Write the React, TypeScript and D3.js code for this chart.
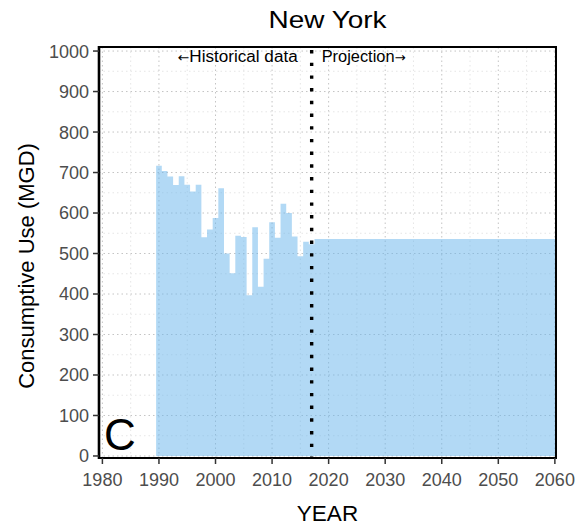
import React from "react";
import * as d3 from "d3";

// ---- Data ----
const historicalYears = [
  1990, 1991, 1992, 1993, 1994, 1995, 1996, 1997, 1998, 1999,
  2000, 2001, 2002, 2003, 2004, 2005, 2006, 2007, 2008, 2009,
  2010, 2011, 2012, 2013, 2014, 2015, 2016, 2017,
];
const historicalUse = [
  717, 704, 690, 669, 691, 670, 653, 670, 540, 559,
  588, 661, 500, 451, 544, 541, 397, 565, 418, 487,
  577, 539, 623, 600, 542, 493, 529, 523,
];
const projectionYears = [2018, 2060];
const projectionUse = [536, 536];
const splitYear = 2017;

const xTicks = [1980, 1990, 2000, 2010, 2020, 2030, 2040, 2050, 2060];
const yTicks = [0, 100, 200, 300, 400, 500, 600, 700, 800, 900, 1000];
const xMinor = [1985, 1995, 2005, 2015, 2025, 2035, 2045, 2055];
const yMinor = [50, 150, 250, 350, 450, 550, 650, 750, 850, 950];

const title = "New York";
const xTitle = "YEAR";
const yTitle = "Consumptive Use (MGD)";
const leftArrow = "\u2190";
const leftNote = "Historical data";
const rightNote = "Projection";
const rightArrow = "\u2192";
const panelTag = "C";

// ---- Layout ----
const W = 575;
const H = 527;
const P = { left: 99, right: 556, top: 47, bottom: 458 };
const FONT = "'Liberation Sans', Arial, sans-serif";
const ARROW_FONT = "'DejaVu Sans', sans-serif";

export default function App() {
  const x = d3.scaleLinear().domain([1979.4, 2060.2]).range([P.left, P.right]);
  const y = d3.scaleLinear().domain([-5, 1010]).range([P.bottom, P.top]);

  // step outline of bars (width 1 year, centred on the year)
  const pts: [number, number][] = [];
  historicalYears.forEach((yr, i) => {
    pts.push([yr - 0.5, historicalUse[i]]);
    pts.push([yr + 0.5, historicalUse[i]]);
  });
  pts.push([projectionYears[0] - 0.5, projectionUse[0]]);
  pts.push([projectionYears[1] + 0.5, projectionUse[1]]);
  const area = d3
    .area<[number, number]>()
    .x((d) => x(d[0]))
    .y0(y(0))
    .y1((d) => y(d[1]));

  const gridMajor = "#c4c4c4";
  const gridMinor = "#e0e0e0";

  return (
    <svg width={W} height={H} style={{ position: "absolute", left: 0, top: 0 }} fontFamily={FONT}>
      <defs>
        <clipPath id="panel">
          <rect x={P.left} y={P.top} width={P.right - P.left} height={P.bottom - P.top} />
        </clipPath>
      </defs>
      <rect x={0} y={0} width={W} height={H} fill="white" />
      {/* grid */}
      <g>
        {yMinor.map((v) => (
          <line key={"ym" + v} x1={P.left} x2={P.right} y1={y(v)} y2={y(v)} stroke={gridMinor} strokeWidth={0.8} strokeDasharray="1.5 3" />
        ))}
        {xMinor.map((v) => (
          <line key={"xm" + v} y1={P.top} y2={P.bottom} x1={x(v)} x2={x(v)} stroke={gridMinor} strokeWidth={0.8} strokeDasharray="1.5 3" />
        ))}
        {yTicks.map((v) => (
          <line key={"yM" + v} x1={P.left} x2={P.right} y1={y(v)} y2={y(v)} stroke={gridMajor} strokeWidth={1} strokeDasharray="1.5 3" />
        ))}
        {xTicks.map((v) => (
          <line key={"xM" + v} y1={P.top} y2={P.bottom} x1={x(v)} x2={x(v)} stroke={gridMajor} strokeWidth={1} strokeDasharray="1.5 3" />
        ))}
      </g>
      {/* bars */}
      <g clipPath="url(#panel)">
        <path d={area(pts) || ""} fill="#66b3ec" fillOpacity={0.5} />
      </g>
      {/* split line */}
      <line
        x1={x(splitYear)}
        x2={x(splitYear)}
        y1={P.top}
        y2={P.bottom}
        stroke="black"
        strokeWidth={3.4}
        strokeDasharray="3.4 9.3"
        strokeDashoffset={-3}
      />
      {/* notes */}
      <text x={x(splitYear) - 14} y={62} fontSize={16} textAnchor="end" fill="black" textLength={120} lengthAdjust="spacingAndGlyphs">
        <tspan fontFamily={ARROW_FONT} fontSize={13}>{leftArrow}</tspan>
        <tspan>{leftNote}</tspan>
      </text>
      <text x={x(splitYear) + 10} y={62} fontSize={16} textAnchor="start" fill="black" textLength={84} lengthAdjust="spacingAndGlyphs">
        <tspan>{rightNote}</tspan>
        <tspan fontFamily={ARROW_FONT} fontSize={13}>{rightArrow}</tspan>
      </text>
      {/* panel tag */}
      <text x={104} y={450} fontSize={44} fill="black">
        {panelTag}
      </text>
      {/* border */}
      <rect x={P.left} y={P.top} width={P.right - P.left} height={P.bottom - P.top} fill="none" stroke="black" strokeWidth={2} />
      <line x1={P.left} x2={P.left} y1={P.top - 1} y2={P.bottom + 1} stroke="black" strokeWidth={2.6} />
      {/* y axis */}
      {yTicks.map((v) => (
        <g key={"yt" + v}>
          <line x1={P.left - 6} x2={P.left} y1={y(v)} y2={y(v)} stroke="#333" strokeWidth={1.5} />
          <text x={P.left - 10} y={y(v)} dy="0.36em" textAnchor="end" fontSize={18} fill="#4d4d4d">
            {v}
          </text>
        </g>
      ))}
      {/* x axis */}
      {xTicks.map((v) => (
        <g key={"xt" + v}>
          <line x1={x(v)} x2={x(v)} y1={P.bottom} y2={P.bottom + 6} stroke="#333" strokeWidth={1.5} />
          <text x={x(v)} y={486} textAnchor="middle" fontSize={18} fill="#4d4d4d">
            {v}
          </text>
        </g>
      ))}
      {/* titles */}
      <text x={(P.left + P.right) / 2} y={28} textAnchor="middle" fontSize={24} fill="black" textLength={118} lengthAdjust="spacingAndGlyphs">
        {title}
      </text>
      <text x={(P.left + P.right) / 2} y={521} textAnchor="middle" fontSize={22.5} fill="black">
        {xTitle}
      </text>
      <text
        transform={`translate(34, ${266}) rotate(-90)`}
        textAnchor="middle"
        fontSize={22}
        fill="black"
      >
        {yTitle}
      </text>
    </svg>
  );
}
